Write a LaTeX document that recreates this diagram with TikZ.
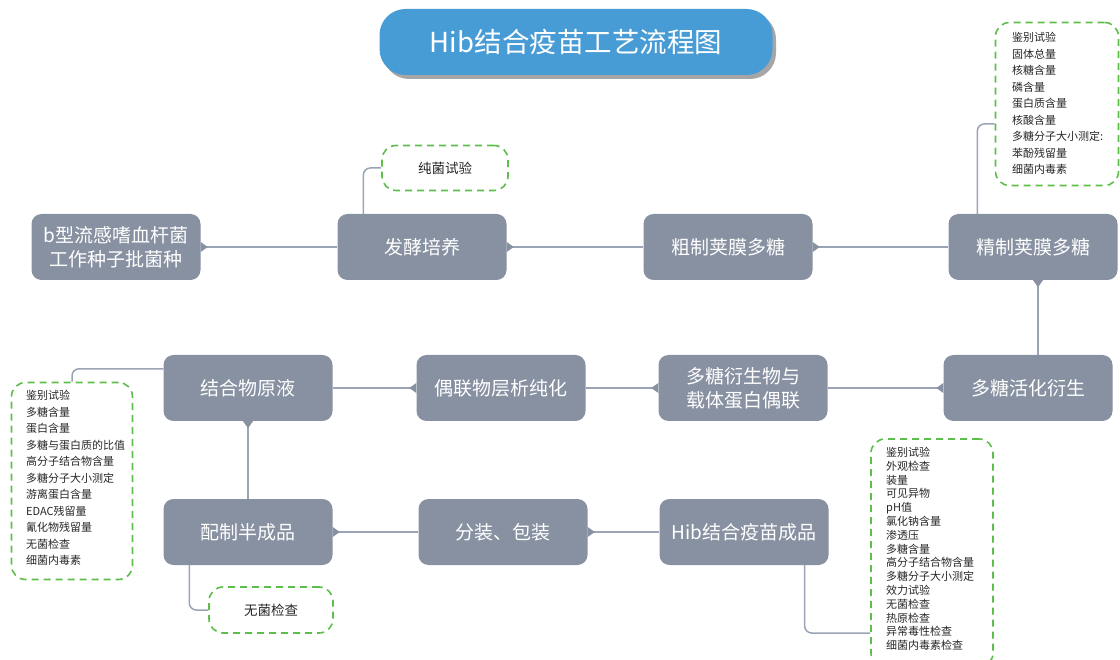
\documentclass[tikz,border=0pt]{standalone}
\usepackage{fontspec}
\setmainfont{Noto Sans CJK SC}
\usepackage{tikz}
\usetikzlibrary{calc}

\definecolor{stepgray}{HTML}{8791A1}
\definecolor{linkgray}{HTML}{9AA4B4}
\definecolor{titleblue}{HTML}{489CD6}
\definecolor{checkgreen}{HTML}{5DBE4B}

\tikzset{
  stepbox/.style={fill=stepgray, rounded corners=10pt, minimum width=169pt,
    minimum height=66pt, inner sep=2pt, text=white, align=center,
    font=\fontsize{19}{24}\selectfont},
  checkbox/.style={draw=checkgreen, dashed, dash pattern=on 7pt off 5pt,
    line width=1.6pt, rounded corners=14pt, inner sep=0pt},
  checktext/.style={align=left, anchor=north west, inner sep=0pt,
    text=black!85, font=\fontsize{11}{16.5}\selectfont},
  checklabel/.style={text=black!85, font=\fontsize{13.5}{16}\selectfont},
  link/.style={draw=linkgray, line width=1.5pt, rounded corners=7pt},
  nub/.style={fill=stepgray}
}

\begin{document}
\begin{tikzpicture}[x=1pt, y=-1pt]
  \clip (0,0) rectangle (1120,660);
  \useasboundingbox (0,0) rectangle (1120,660);

  % Title
  \fill[gray!70, rounded corners=26pt] (383,13) rectangle (776,79);
  \node[fill=titleblue, rounded corners=26pt, minimum width=393pt,
    minimum height=66pt, text=white, font=\fontsize{27.5}{32}\selectfont]
    (title) at (576,42) {Hib结合疫苗工艺流程图};

  % Steps, top row
  \node[stepbox] (seed) at (116,247) {b型流感嗜血杆菌\\工作种子批菌种};
  \node[stepbox] (ferm) at (422,247) {发酵培养};
  \node[stepbox] (crude) at (728,247) {粗制荚膜多糖};
  \node[stepbox] (fine) at (1033,247) {精制荚膜多糖};

  % Steps, middle row
  \node[stepbox] (stock) at (248,388) {结合物原液};
  \node[stepbox] (chrom) at (501,388) {偶联物层析纯化};
  \node[stepbox] (couple) at (743,388) {多糖衍生物与\\载体蛋白偶联};
  \node[stepbox] (activ) at (1028,388) {多糖活化衍生};

  % Steps, bottom row
  \node[stepbox] (bulk) at (248,532) {配制半成品};
  \node[stepbox] (pack) at (503,532) {分装、包装};
  \node[stepbox] (final) at (744,532) {Hib结合疫苗成品};

  % Flow
  \draw[link] (seed) -- (ferm);
  \draw[link] (ferm) -- (crude);
  \draw[link] (crude) -- (fine);
  \draw[link] ([xshift=5pt]fine.south) -- ([xshift=5pt]fine.south |- activ.north);
  \draw[link] (activ) -- (couple);
  \draw[link] (couple) -- (chrom);
  \draw[link] (chrom) -- (stock);
  \draw[link] (stock) -- (bulk);
  \draw[link] (bulk) -- (pack);
  \draw[link] (pack) -- (final);

  % Nubs
  \foreach \n/\a in {seed/0,ferm/0,crude/0,bulk/0,pack/0,
                     stock/-90,activ/180,couple/180,chrom/180}
    \fill[nub] ($(\n.\a)+(\a+90:5pt)$) -- ($(\n.\a)+(\a:7pt)$)
      -- ($(\n.\a)+(\a-90:5pt)$) -- cycle;
  \fill[nub] ([xshift=5pt]fine.south) ++(-5pt,0) -- ++(5pt,-7pt)
    -- ++(5pt,7pt) -- cycle;

  % Checks
  \node[checkbox, minimum width=126pt, minimum height=45pt] (pureChk)
    at (445,168) {};
  \node[checklabel] at (pureChk) {纯菌试验};
  \draw[link] ([xshift=26pt]ferm.north west) |- (pureChk.west);

  \node[checkbox, minimum width=123pt, minimum height=163pt] (fineChk)
    at (1057,104) {};
  \node[checktext] at (1012,32) {鉴别试验\\固体总量\\核糖含量\\磷含量\\蛋白质含量\\核酸含量\\多糖分子大小测定:\\苯酚残留量\\细菌内毒素};
  \draw[link] ([xshift=29pt]fine.north west) |- ([yshift=-20pt]fineChk.west);

  \node[checkbox, minimum width=121pt, minimum height=197pt] (stockChk)
    at (72,481) {};
  \node[checktext] at (26,390) {鉴别试验\\多糖含量\\蛋白含量\\多糖与蛋白质的比值\\高分子结合物含量\\多糖分子大小测定\\游离蛋白含量\\EDAC残留量\\氰化物残留量\\无菌检查\\细菌内毒素};
  \draw[link] ([yshift=-14pt]stock.north west) -| (stockChk.north);

  \node[checkbox, minimum width=124pt, minimum height=46pt] (bulkChk)
    at (271,610) {};
  \node[checklabel] at (bulkChk) {无菌检查};
  \draw[link] ([xshift=26pt]bulk.south west) |- (bulkChk.west);

  \node[checkbox, minimum width=122pt, minimum height=228pt] (finalChk)
    at (932,553) {};
  \node[checktext, font=\fontsize{11}{13.8}\selectfont] at (886,447) {鉴别试验\\外观检查\\装量\\可见异物\\pH值\\氯化钠含量\\渗透压\\多糖含量\\高分子结合物含量\\多糖分子大小测定\\效力试验\\无菌检查\\热原检查\\异常毒性检查\\细菌内毒素检查};
  \draw[link] ([xshift=-24pt]final.south east) |- ([yshift=-80pt]finalChk.west);
\end{tikzpicture}
\end{document}
